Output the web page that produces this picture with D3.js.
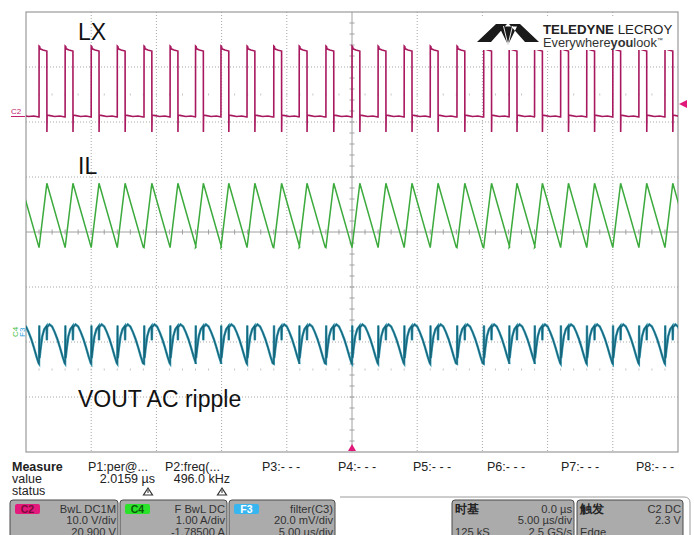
<!DOCTYPE html>
<html>
<head>
<meta charset="utf-8">
<script src="https://cdn.jsdelivr.net/npm/d3@7"></script>
<style>
  body { margin: 0; background: #fff; }
  text { font-family: "Liberation Sans", Arial, sans-serif; }
</style>
</head>
<body>
<svg id="scope" width="694" height="535"></svg>
<script>
// switching edges (rising edge of LX), µs
const edges = [-26.0, -24.0, -22.0, -20.0, -18.0, -15.95, -13.95, -12.0, -10.05, -8.05, -6.0, -4.05, -2.0,
  0.0, 2.0, 4.0, 6.0, 8.05, 10.1, 12.05, 14.0, 16.0, 18.0, 20.0, 22.0, 24.0];

// one switching cycle of each trace: [µs after edge, value]
const lxShape = [[0, 0], [0.004, 12.9], [0.05, 12.8], [0.08, 12.4], [0.3, 12.2], [0.6, 12.0],
  [0.604, -2.7], [0.62, 0.4], [0.75, 0.3], [1.2, 0.1], [1.6, 0.2], [1.99, 0.0]];          // V
const ilShape = [[0, 1.50], [0.6, 2.67], [1.99, 1.51]];                                     // A
const voutShape = [[0, -7.5], [0.02, 6.4], [0.04, -5.5], [0.12, -2.0], [0.25, 2.5], [0.4, 5.0],
  [0.58, 6.2], [0.6, 1.0], [0.62, 5.8], [0.8, 6.8], [1.0, 6.0], [1.2, 4.0], [1.4, 1.5],
  [1.6, -1.5], [1.8, -4.8], [1.97, -7.3]];                                                 // mV

// channel settings
const lxScale = 10, lxPos = 2.09;     // V/div, div
const ilScale = 1, ilOffset = -1.785; // A/div, A
const voutScale = 20, voutPos = -2.02; // mV/div, div

const labels = ["LX", "IL", "VOUT AC ripple"];
const measHead = ["P1:per@...", "P2:freq(...", "P3:- - -", "P4:- - -", "P5:- - -", "P6:- - -", "P7:- - -", "P8:- - -"];
const measValue = ["2.0159 µs", "496.0 kHz"];

const svg = d3.select("#scope");
const x = d3.scaleLinear().domain([-25, 25]).range([26, 678]);
const y = d3.scaleLinear().domain([-4, 4]).range([452, 12]);

svg.append("defs").append("clipPath").attr("id", "plot")
  .append("rect").attr("x", x(-25)).attr("y", y(4)).attr("width", x(25) - x(-25)).attr("height", y(-4) - y(4));

// grid
const grid = svg.append("g");
d3.range(-20, 25, 5).filter(d => d !== 0).forEach(t => {
  grid.append("line").attr("x1", x(t)).attr("x2", x(t)).attr("y1", y(4)).attr("y2", y(-4))
    .attr("stroke", "#a8a8a8").attr("stroke-dasharray", "1,2");
});
d3.range(-3, 4, 1).filter(d => d !== 0).forEach(v => {
  grid.append("line").attr("x1", x(-25)).attr("x2", x(25)).attr("y1", y(v)).attr("y2", y(v))
    .attr("stroke", "#a8a8a8").attr("stroke-dasharray", "1,2");
});
grid.append("line").attr("x1", x(0)).attr("x2", x(0)).attr("y1", y(4)).attr("y2", y(-4)).attr("stroke", "#a0a0a0");
grid.append("line").attr("x1", x(-25)).attr("x2", x(25)).attr("y1", y(0)).attr("y2", y(0)).attr("stroke", "#a0a0a0");
d3.range(-3.8, 4, 0.2).forEach(v => {
  grid.append("line").attr("x1", x(0) - 2.5).attr("x2", x(0) + 2.5).attr("y1", y(v)).attr("y2", y(v)).attr("stroke", "#a0a0a0");
});
d3.range(-24, 25, 1).forEach(t => {
  grid.append("line").attr("x1", x(t)).attr("x2", x(t)).attr("y1", y(0) - 2.5).attr("y2", y(0) + 2.5).attr("stroke", "#a0a0a0");
  [2.5, -2.5].forEach(v => {
    grid.append("line").attr("x1", x(t)).attr("x2", x(t)).attr("y1", y(v) - 1).attr("y2", y(v) + 1).attr("stroke", "#c4c4c4");
  });
});
grid.append("rect").attr("x", x(-25)).attr("y", y(4)).attr("width", x(25) - x(-25)).attr("height", y(-4) - y(4))
  .attr("fill", "none").attr("stroke", "#9a9a9a").attr("stroke-width", 1.2);

// traces
const build = shape => edges.flatMap(e => shape.map(([dt, v]) => [e + dt, v]));
const traces = svg.append("g").attr("clip-path", "url(#plot)");

const lxLine = d3.line().x(d => x(d[0])).y(d => y(d[1] / lxScale + lxPos));
const ilLine = d3.line().x(d => x(d[0])).y(d => y((d[1] + ilOffset) / ilScale));
const voutLine = d3.line().x(d => x(d[0])).y(d => y(d[1] / voutScale + voutPos));

traces.append("path").attr("d", lxLine(build(lxShape))).attr("fill", "none")
  .attr("stroke", "#a8185e").attr("stroke-width", 1.6);
traces.append("path").attr("d", ilLine(build(ilShape))).attr("fill", "none")
  .attr("stroke", "#3caa3c").attr("stroke-width", 1.5);
traces.append("path").attr("d", voutLine(build(voutShape))).attr("fill", "none")
  .attr("stroke", "#3a9ab4").attr("stroke-width", 2.4);
traces.append("path").attr("d", voutLine(build(voutShape))).attr("fill", "none")
  .attr("stroke", "#166276").attr("stroke-width", 1.1);

// trace labels
[[labels[0], 40], [labels[1], 174], [labels[2], 407]].forEach(([t, yy]) => {
  svg.append("text").attr("x", 78).attr("y", yy).attr("font-size", 23).attr("fill", "#111").text(t);
});

// channel markers
svg.append("text").attr("x", 11).attr("y", 114).attr("font-size", 8).attr("fill", "#c0206a").text("C2");
svg.append("line").attr("x1", 11).attr("x2", 25).attr("y1", 116.5).attr("y2", 116.5).attr("stroke", "#c0206a");
svg.append("text").attr("transform", "translate(18,337) rotate(-90)").attr("font-size", 8).attr("fill", "#44c044").text("C4");
svg.append("text").attr("transform", "translate(24.5,337) rotate(-90)").attr("font-size", 8).attr("fill", "#2aa0e0").text("F3");
svg.append("path").attr("d", "M679,104 L687,100 L687,108 Z").attr("fill", "#e0187a");
svg.append("path").attr("d", `M${x(0)},444 L${x(0) - 4},451 L${x(0) + 4},451 Z`).attr("fill", "#e0187a");

// logo
const logo = svg.append("g");
logo.append("rect").attr("x", 472).attr("y", 18).attr("width", 205).attr("height", 32).attr("fill", "#fff");
logo.append("path")
  .attr("d", "M477,42 L496,24 L507,24 L491,42 Z M539,42 L520,24 L509,24 L525,42 Z M499,26.5 L517,26.5 L508,45 Z")
  .attr("fill", "#1a1a1a");
logo.append("path").attr("d", "M508,45 L503.5,26 M508,45 L512.5,26").attr("stroke", "#fff").attr("stroke-width", 0.9);
const brand = logo.append("text").attr("x", 543).attr("y", 34).attr("font-size", 13.3).attr("fill", "#222");
brand.append("tspan").attr("font-weight", "bold").text("TELEDYNE ");
brand.append("tspan").text("LECROY");
const tag = logo.append("text").attr("x", 543).attr("y", 46.5).attr("font-size", 12.8).attr("fill", "#333");
tag.append("tspan").text("Everywhere");
tag.append("tspan").attr("font-weight", "bold").text("you");
tag.append("tspan").text("look");
tag.append("tspan").attr("font-size", 6).attr("dy", -5).text("™");

// measurement table
const meas = svg.append("g").attr("font-size", 12.5).attr("fill", "#222");
meas.append("text").attr("x", 12).attr("y", 470.5).attr("font-weight", "bold").text("Measure");
meas.append("text").attr("x", 12).attr("y", 483).text("value");
meas.append("text").attr("x", 12).attr("y", 495).text("status");
const measX = [88, 165, 262, 338, 413, 487, 561, 636];
measHead.forEach((t, i) => meas.append("text").attr("x", measX[i]).attr("y", 470.5).text(t));
measValue.forEach((t, i) => meas.append("text").attr("x", [155, 230][i]).attr("y", 483).attr("text-anchor", "end").text(t));
[148, 222].forEach(cx => {
  meas.append("path").attr("d", `M${cx},488 L${cx - 4.5},495 L${cx + 4.5},495 Z`).attr("fill", "none").attr("stroke", "#333").attr("stroke-width", 1.2);
  meas.append("line").attr("x1", cx).attr("x2", cx).attr("y1", 490).attr("y2", 493).attr("stroke", "#333");
});

// descriptor boxes
svg.append("path").attr("d", "M340,497 H684 Q690,497 690,503 V535").attr("fill", "none").attr("stroke", "#9a9a9a");
const boxes = [
  { x0: 10, x1: 118, badge: "C2", color: "#e3197c", tcol: "#7a0a3a", rows: [["", "BwL DC1M"], ["", "10.0 V/div"], ["", "20.900 V"]] },
  { x0: 120, x1: 227, badge: "C4", color: "#2be22b", tcol: "#0a5a0a", rows: [["", "F  BwL  DC"], ["", "1.00 A/div"], ["", "-1.78500 A"]] },
  { x0: 229, x1: 335, badge: "F3", color: "#38b6f0", tcol: "#fff", rows: [["", "filter(C3)"], ["", "20.0 mV/div"], ["", "5.00 µs/div"]] },
  { x0: 452, x1: 574, head: "时基", rows: [["", "0.0 µs"], ["", "5.00 µs/div"], ["125 kS", "2.5 GS/s"]] },
  { x0: 577, x1: 683, head: "触发", rows: [["", "C2  DC"], ["", "2.3 V"], ["Edge", ""]] }
];
boxes.forEach(b => {
  const g = svg.append("g").attr("font-size", 11.2).attr("fill", "#333");
  g.append("rect").attr("x", b.x0).attr("y", 500).attr("width", b.x1 - b.x0).attr("height", 45).attr("rx", 3)
    .attr("fill", "#ababab").attr("stroke", "#4a4a4a");
  if (b.badge) {
    g.append("rect").attr("x", b.x0 + 5).attr("y", 504).attr("width", 25).attr("height", 10).attr("rx", 2).attr("fill", b.color);
    g.append("text").attr("x", b.x0 + 17.5).attr("y", 513).attr("text-anchor", "middle").attr("font-weight", "bold")
      .attr("fill", b.tcol).attr("font-size", 10.5).text(b.badge);
  }
  if (b.head) {
    g.append("text").attr("x", b.x0 + 3).attr("y", 512.5).attr("font-family", "Noto Sans CJK SC").attr("font-weight", "bold")
      .attr("font-size", 11.5).attr("fill", "#222").text(b.head);
  }
  b.rows.forEach(([l, r], i) => {
    const yy = 512.5 + i * 11.5;
    if (l) g.append("text").attr("x", b.x0 + 3).attr("y", yy).text(l);
    if (r) g.append("text").attr("x", b.x1 - 2).attr("y", yy).attr("text-anchor", "end").text(r);
  });
});
</script>
</body>
</html>
